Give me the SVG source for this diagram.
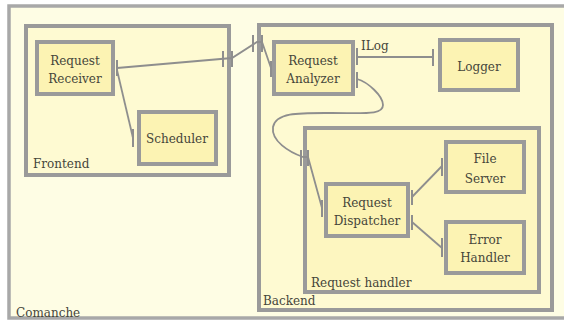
<svg xmlns="http://www.w3.org/2000/svg" width="564" height="320" viewBox="0 0 564 320">
  <style>
    .outer { fill: #fefde4; stroke: #a8a8a8; stroke-width: 3.5; }
    .cont { fill: #fefad2; stroke: #9a9a9a; stroke-width: 4; }
    .inner { fill: #fdf6c0; stroke: #9a9a9a; stroke-width: 4; }
    .node { fill: #fcf3b3; stroke: #9a9a9a; stroke-width: 4; }
    text { font-family: "DejaVu Serif", "Liberation Serif", serif; font-size: 12px; fill: #45453a; }
    .c { text-anchor: middle; }
    .wire { fill: none; stroke: #8e8e8e; stroke-width: 1.8; }
    .tick { stroke: #8e8e8e; stroke-width: 2; }
  </style>
  <rect x="0" y="0" width="564" height="320" fill="#ffffff"/>

  <!-- containers -->
  <g id="comanche">
    <rect class="outer" x="9" y="6" width="560" height="312"/>
    <text x="16" y="317">Comanche</text>
  </g>
  <g id="frontend">
    <rect class="cont" x="26" y="26" width="203" height="149"/>
    <text x="33" y="168">Frontend</text>
  </g>
  <g id="backend">
    <rect class="cont" x="259" y="25" width="293" height="285"/>
    <text x="263" y="305">Backend</text>
  </g>
  <g id="request-handler">
    <rect class="inner" x="305" y="128" width="234" height="164"/>
    <text x="311" y="287">Request handler</text>
  </g>

  <!-- components -->
  <g id="request-receiver">
    <rect class="node" x="37" y="42" width="76" height="52"/>
    <text class="c" x="75" y="65">Request</text>
    <text class="c" x="75" y="83">Receiver</text>
  </g>
  <g id="scheduler">
    <rect class="node" x="139" y="112" width="77" height="52"/>
    <text class="c" x="177" y="143">Scheduler</text>
  </g>
  <g id="request-analyzer">
    <rect class="node" x="274" y="42" width="79" height="52"/>
    <text class="c" x="313" y="65">Request</text>
    <text class="c" x="313" y="83">Analyzer</text>
  </g>
  <g id="logger">
    <rect class="node" x="440" y="40" width="78" height="50"/>
    <text class="c" x="479" y="71">Logger</text>
  </g>
  <g id="request-dispatcher">
    <rect class="node" x="326" y="184" width="82" height="52"/>
    <text class="c" x="367" y="207">Request</text>
    <text class="c" x="367" y="225">Dispatcher</text>
  </g>
  <g id="file-server">
    <rect class="node" x="446" y="142" width="78" height="50"/>
    <text class="c" x="485" y="163">File</text>
    <text class="c" x="485" y="183">Server</text>
  </g>
  <g id="error-handler">
    <rect class="node" x="446" y="222" width="78" height="51"/>
    <text class="c" x="485" y="244">Error</text>
    <text class="c" x="485" y="262">Handler</text>
  </g>

  <!-- bindings and interface ports -->
  <g id="connectors">
    <!-- receiver to frontend export, export to backend, backend to analyzer -->
    <path class="wire" d="M117,68 L232,58 L257,42 L262,42 L271,68"/>
    <line class="tick" x1="117" y1="60" x2="117" y2="76"/>
    <line class="tick" x1="223" y1="51" x2="223" y2="67"/>
    <line class="tick" x1="232" y1="51" x2="232" y2="67"/>
    <line class="tick" x1="253" y1="35" x2="253" y2="52"/>
    <line class="tick" x1="262" y1="35" x2="262" y2="52"/>
    <line class="tick" x1="271" y1="61" x2="271" y2="77"/>

    <!-- receiver to scheduler -->
    <path class="wire" d="M117,70 L133,138"/>
    <line class="tick" x1="133" y1="129" x2="133" y2="147"/>

    <!-- analyzer to logger (ILog) -->
    <path class="wire" d="M357,57 L433,57"/>
    <line class="tick" x1="357" y1="48" x2="357" y2="65"/>
    <line class="tick" x1="433" y1="49" x2="433" y2="66"/>
    <text x="361" y="50">ILog</text>

    <!-- analyzer to request handler -->
    <path class="wire" d="M357,79 C368,82 383,96 383,105 C383,115 366,113 332,113 C300,113 276,112 273,127 C271,141 289,152 303,157 L308,157 L322,208"/>
    <line class="tick" x1="357" y1="72" x2="357" y2="88"/>
    <line class="tick" x1="301" y1="150" x2="301" y2="166"/>
    <line class="tick" x1="308" y1="150" x2="308" y2="166"/>
    <line class="tick" x1="322" y1="200" x2="322" y2="217"/>

    <!-- dispatcher to file server and error handler -->
    <path class="wire" d="M412,197 L442,166"/>
    <line class="tick" x1="412" y1="190" x2="412" y2="205"/>
    <line class="tick" x1="442" y1="158" x2="442" y2="176"/>
    <path class="wire" d="M412,222 L442,248"/>
    <line class="tick" x1="412" y1="215" x2="412" y2="230"/>
    <line class="tick" x1="442" y1="238" x2="442" y2="257"/>
  </g>
</svg>
